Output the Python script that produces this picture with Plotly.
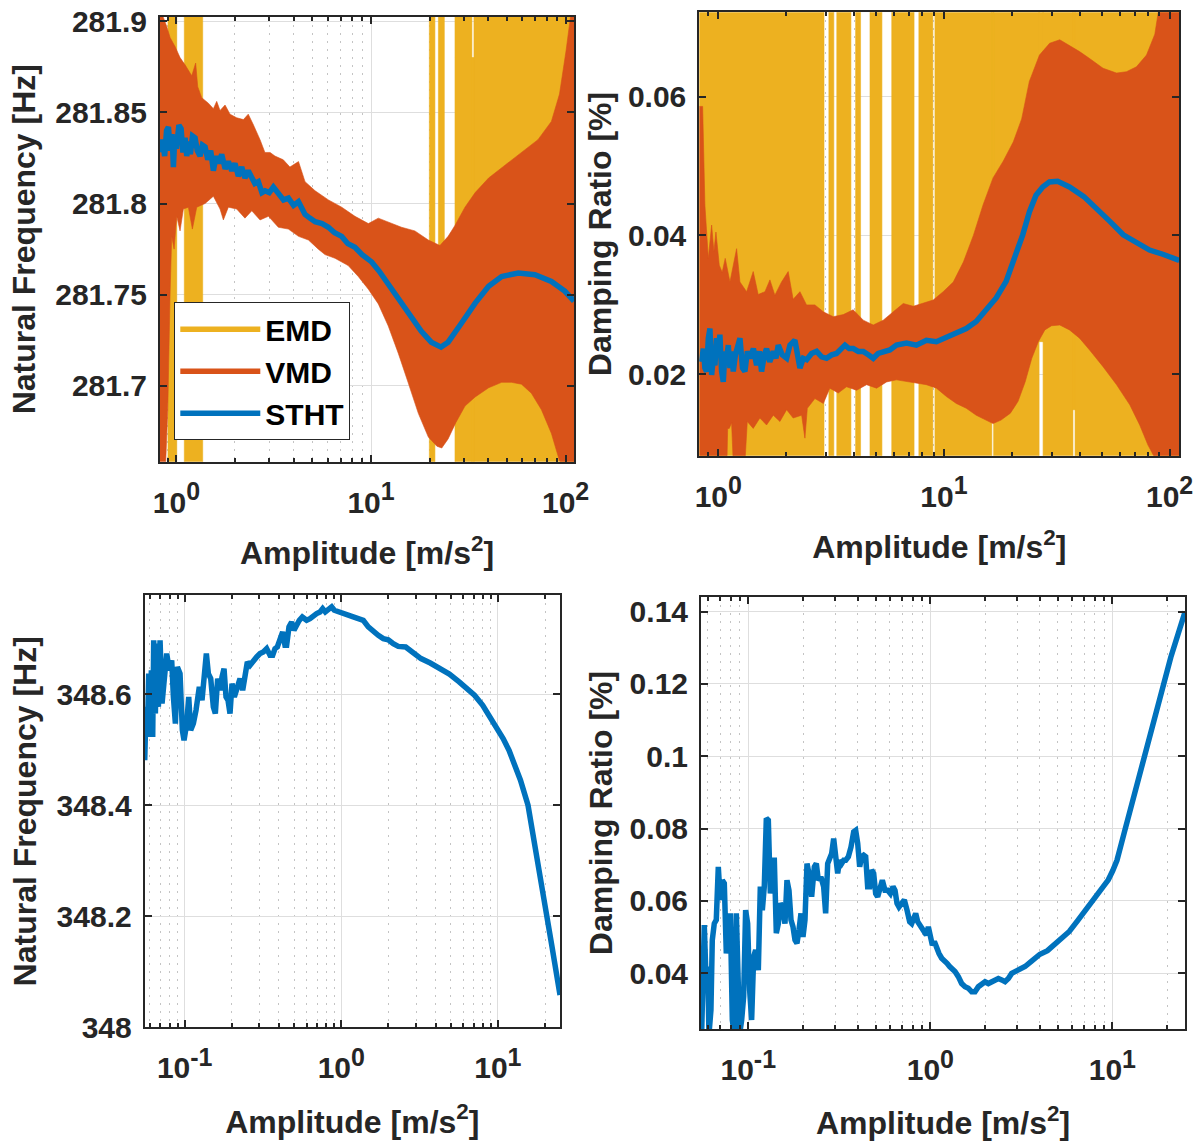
import plotly.graph_objects as go

FONT = "Liberation Sans, Arial, Helvetica, sans-serif"
EMD_C = "#EDB120"
VMD_C = "#D95319"
STHT_C = "#0072BD"
INK = "#262626"

# ---------------- first mode: natural frequency (top left) ----------------
tl_stht_amp = [0.834, 0.85, 0.87, 0.89, 0.91, 0.93, 0.95, 0.965, 0.98, 1.00, 1.03, 1.057, 1.08,
               1.108, 1.13, 1.152, 1.18, 1.21, 1.247, 1.28, 1.323, 1.36, 1.404, 1.45, 1.50, 1.549,
               1.60, 1.65, 1.709, 1.78, 1.85, 1.925, 2.00, 2.08, 2.166, 2.25, 2.34, 2.437, 2.53,
               2.636, 2.75, 2.853, 3.0, 3.15, 3.34, 3.55, 3.763, 4.0, 4.237, 4.4, 4.583, 4.85,
               5.163, 5.6, 6.04, 6.5, 7.07, 7.6, 8.27, 9.0, 10.07, 11.0, 12.25, 13.5, 14.9, 16.5,
               18.14, 20.4, 22.9, 24.9, 27.0, 29.2, 34.3, 40.2, 46.9, 57.1, 69.5, 84.5, 99.0, 110.4]
tl_stht_freq = [281.828, 281.835, 281.826, 281.840, 281.842, 281.829, 281.838, 281.820, 281.835,
                281.830, 281.843, 281.841, 281.828, 281.836, 281.826, 281.834, 281.827, 281.837,
                281.836, 281.829, 281.826, 281.832, 281.831, 281.824, 281.829, 281.818, 281.826,
                281.822, 281.827, 281.819, 281.823, 281.818, 281.822, 281.815, 281.820, 281.814,
                281.818, 281.815, 281.811, 281.812, 281.806, 281.807, 281.806, 281.809, 281.806,
                281.802, 281.803, 281.799, 281.801, 281.798, 281.794, 281.792, 281.790, 281.789,
                281.787, 281.784, 281.782, 281.778, 281.776, 281.772, 281.768, 281.763, 281.756,
                281.749, 281.742, 281.736, 281.730, 281.724, 281.7213, 281.724, 281.729, 281.7345,
                281.7454, 281.7546, 281.760, 281.7619, 281.761, 281.7573, 281.752, 281.7465]

tl_vmd_hi_amp = [0.823, 0.857, 0.892, 0.928, 0.984, 1.044, 1.108, 1.152, 1.199, 1.256, 1.287, 1.349,
                 1.46, 1.549, 1.611, 1.676, 1.778, 1.886, 2.04, 2.21, 2.34, 2.49, 2.69, 2.85, 3.03,
                 3.21, 3.54, 3.83, 4.24, 4.58, 5.16, 6.04, 7.07, 8.27, 9.69, 10.9, 12.25, 14.35,
                 16.8, 19.7, 22.6, 24.9, 27.0, 30.4, 34.3, 40.2, 48.8, 59.3, 72.1, 84.5, 93.0,
                 100.6, 105.8, 110.4]
tl_vmd_hi_freq = [281.91, 281.902, 281.897, 281.891, 281.886, 281.880, 281.876, 281.873, 281.870,
                  281.877, 281.864, 281.858, 281.855, 281.852, 281.856, 281.851, 281.854, 281.849,
                  281.847, 281.846, 281.849, 281.843, 281.835, 281.828, 281.828, 281.826, 281.824,
                  281.820, 281.823, 281.812, 281.807, 281.802, 281.798, 281.793, 281.789, 281.792,
                  281.790, 281.787, 281.785, 281.780, 281.777, 281.782, 281.788, 281.798, 281.806,
                  281.814, 281.821, 281.828, 281.835, 281.845, 281.860, 281.884, 281.902, 281.91]
tl_vmd_lo_amp = [0.823, 0.875, 0.903, 0.928, 0.946, 0.973, 1.004, 1.044, 1.086, 1.152, 1.208, 1.272,
                 1.404, 1.549, 1.676, 1.743, 1.849, 2.04, 2.25, 2.44, 2.69, 2.97, 3.34, 3.76, 4.24,
                 4.77, 5.36, 5.80, 6.53, 7.63, 8.6, 9.69, 10.9, 12.25, 13.8, 15.5, 17.5, 19.7, 21.8,
                 23.1, 24.9, 27.3, 30.4, 34.3, 40.2, 46.9, 52.7, 59.3, 66.7, 75.1, 84.5, 93.0, 110.4]
tl_vmd_lo_freq = [281.65, 281.65, 281.687, 281.751, 281.782, 281.775, 281.793, 281.785, 281.797,
                  281.798, 281.786, 281.798, 281.800, 281.804, 281.797, 281.791, 281.798, 281.797,
                  281.792, 281.796, 281.791, 281.793, 281.787, 281.786, 281.782, 281.780, 281.775,
                  281.772, 281.770, 281.766, 281.760, 281.753, 281.745, 281.733, 281.718, 281.702,
                  281.685, 281.672, 281.667, 281.666, 281.671, 281.680, 281.689, 281.694, 281.699,
                  281.702, 281.702, 281.701, 281.696, 281.687, 281.674, 281.659, 281.65]

# EMD estimates swing past the axis limits; each span lists where they sweep
tl_emd_start = [0.905, 1.098, 19.94, 22.2, 27.0, 33.0, 33.8]
tl_emd_end = [1.004, 1.365, 21.3, 23.8, 33.0, 33.8, 110.4]
tl_emd_low = [281.60, 281.60, 281.60, 281.74, 281.60, 281.60, 281.60]
tl_emd_high = [281.95, 281.95, 281.95, 281.95, 281.95, 281.88, 281.95]

# ---------------- first mode: damping ratio (top right) ----------------
tr_stht_amp = [0.843, 0.858, 0.872, 0.887, 0.903, 0.918, 0.934, 0.950, 0.966, 0.982, 1.000, 1.016,
               1.034, 1.052, 1.070, 1.088, 1.107, 1.126, 1.145, 1.165, 1.19, 1.22, 1.247, 1.28,
               1.312, 1.345, 1.380, 1.43, 1.478, 1.52, 1.555, 1.60, 1.636, 1.69, 1.752, 1.80, 1.843,
               1.92, 2.008, 2.077, 2.185, 2.30, 2.38, 2.463, 2.59, 2.726, 2.87, 3.018, 3.18, 3.341,
               3.49, 3.641, 3.80, 3.964, 4.17, 4.389, 4.62, 4.858, 5.11, 5.379, 5.757, 6.162, 6.822,
               7.552, 8.361, 9.256, 10.25, 11.34, 12.56, 13.9, 15.39, 17.04, 18.86, 20.88, 22.34,
               23.91, 25.59, 27.39, 29.32, 31.9, 36.0, 41.7, 47.6, 54.5, 62.3, 71.3, 81.5, 93.3,
               106.7, 110.4]
tr_stht_damp = [0.0218, 0.0237, 0.0209, 0.0204, 0.0252, 0.0266, 0.0199, 0.0223, 0.0213, 0.0252,
                0.0233, 0.0257, 0.0204, 0.0189, 0.0233, 0.0223, 0.0242, 0.0209, 0.0233, 0.0204,
                0.0228, 0.0242, 0.0252, 0.0209, 0.0204, 0.0233, 0.0223, 0.0237, 0.0213, 0.0233,
                0.0204, 0.0228, 0.0237, 0.0218, 0.0233, 0.0223, 0.0242, 0.0228, 0.0223, 0.0242,
                0.0249, 0.0209, 0.0223, 0.0221, 0.0230, 0.0233, 0.0225, 0.0223, 0.0228, 0.0230,
                0.0237, 0.0242, 0.0237, 0.0237, 0.0233, 0.0233, 0.0228, 0.0223, 0.0230, 0.0233,
                0.0235, 0.0242, 0.0245, 0.0242, 0.0249, 0.0247, 0.0254, 0.0259, 0.0266, 0.0276,
                0.0293, 0.0310, 0.0334, 0.0372, 0.0401, 0.0434, 0.0458, 0.0470, 0.0477, 0.0478,
                0.0470, 0.0456, 0.0439, 0.0420, 0.0401, 0.0389, 0.0379, 0.0373, 0.0366, 0.0364]

tr_vmd_hi_amp = [0.823, 0.852, 0.872, 0.903, 0.934, 0.956, 0.976, 1.01, 1.04, 1.073, 1.126, 1.205,
                 1.247, 1.335, 1.428, 1.502, 1.609, 1.693, 1.781, 1.906, 2.04, 2.146, 2.30, 2.46,
                 2.68, 2.92, 3.23, 3.58, 3.96, 4.39, 4.86, 5.38, 5.96, 6.60, 7.31, 8.09, 8.96, 9.92,
                 11.0, 12.2, 13.5, 14.9, 16.5, 18.3, 20.3, 22.1, 23.9, 26.5, 29.4, 32.6, 36.0, 39.9,
                 44.2, 50.7, 58.2, 64.4, 71.3, 79.0, 86.0, 91.9, 110.4]
tr_vmd_hi_damp = [0.0586, 0.0586, 0.0444, 0.0367, 0.0415, 0.0377, 0.0405, 0.0357, 0.0347, 0.0367,
                  0.0333, 0.0381, 0.0333, 0.0319, 0.0348, 0.0315, 0.0319, 0.0336, 0.0314, 0.0333,
                  0.0348, 0.0308, 0.0319, 0.0300, 0.0300, 0.0290, 0.0283, 0.0286, 0.0293, 0.0278,
                  0.0271, 0.0278, 0.0290, 0.0302, 0.0298, 0.0302, 0.0307, 0.0319, 0.0333, 0.0362,
                  0.0400, 0.0444, 0.0483, 0.0507, 0.0535, 0.0568, 0.0622, 0.0660, 0.0677, 0.0682,
                  0.0674, 0.0665, 0.0655, 0.0641, 0.0634, 0.0636, 0.0643, 0.0660, 0.0690, 0.0750,
                  0.0750]
tr_vmd_lo_amp = [0.823, 1.088, 1.10, 1.118, 1.145, 1.172, 1.30, 1.344, 1.428, 1.528, 1.636, 1.752,
                 1.875, 2.008, 2.146, 2.34, 2.42, 2.48, 2.68, 2.92, 3.12, 3.40, 3.70, 4.10, 4.54,
                 5.03, 5.57, 6.16, 6.82, 7.55, 8.36, 9.26, 10.25, 11.34, 12.56, 13.9, 15.4, 16.5,
                 17.9, 19.7, 21.3, 22.9, 24.5, 26.2, 28.0, 30.0, 32.6, 36.0, 39.9, 44.2, 50.7, 58.2,
                 66.6, 73.7, 80.2, 84.9, 110.4]
tr_vmd_lo_damp = [0.0050, 0.0050, 0.0122, 0.0122, 0.0130, 0.0050, 0.0050, 0.0132, 0.0122, 0.0137,
                  0.0127, 0.0141, 0.0132, 0.0149, 0.0137, 0.0141, 0.0108, 0.0151, 0.0165, 0.0158,
                  0.0180, 0.0173, 0.0182, 0.0177, 0.0185, 0.0180, 0.0189, 0.0192, 0.0189, 0.0187,
                  0.0185, 0.0180, 0.0168, 0.0158, 0.0151, 0.0141, 0.0134, 0.0129, 0.0134, 0.0144,
                  0.0161, 0.0189, 0.0223, 0.0247, 0.0264, 0.0270, 0.0271, 0.0264, 0.0252, 0.0235,
                  0.0211, 0.0185, 0.0156, 0.0127, 0.0098, 0.0083, 0.0050]

tr_emd_start = [0.823, 3.09, 3.35, 4.06, 4.70, 5.87, 7.74, 9.12, 16.3, 16.6, 26.4, 27.5, 37.3, 38.1]
tr_emd_end = [2.94, 3.25, 3.87, 4.27, 5.31, 7.37, 8.93, 16.3, 16.6, 26.4, 27.5, 37.3, 38.1, 110.4]
tr_emd_low = [0.0, 0.0, 0.0, 0.0, 0.0, 0.0, 0.0, 0.0, 0.0135, 0.0, 0.0247, 0.0, 0.0149, 0.0]
tr_emd_high = [0.08] * 14

# ---------------- second mode: natural frequency (bottom left) ----------------
bl_stht_amp = [0.05556, 0.05665, 0.05777, 0.05891, 0.06007, 0.06126, 0.06247, 0.0634, 0.06498,
               0.06627, 0.06791, 0.06961, 0.07168, 0.07382, 0.07675, 0.0798, 0.0826, 0.08468,
               0.0872, 0.08981, 0.09337, 0.09663, 0.09902, 0.1030, 0.1061, 0.1092, 0.1136, 0.1181,
               0.1240, 0.1290, 0.1335, 0.1375, 0.1416, 0.1466, 0.1524, 0.1569, 0.1624, 0.1681,
               0.1731, 0.1783, 0.1836, 0.1891, 0.1947, 0.2005, 0.2075, 0.2158, 0.2256, 0.2346,
               0.2439, 0.2512, 0.2612, 0.2744, 0.2882, 0.3027, 0.3178, 0.3338, 0.3506, 0.3646,
               0.3773, 0.3904, 0.4060, 0.4222, 0.4369, 0.4478, 0.4634, 0.4819, 0.4988, 0.5187,
               0.5394, 0.5637, 0.6008, 0.6310, 0.6628, 0.6961, 0.7311, 0.7602, 0.7905, 0.8260,
               0.8679, 0.9023, 0.9570, 1.005, 1.055, 1.108, 1.192, 1.284, 1.382, 1.487, 1.601,
               1.723, 1.854, 1.995, 2.147, 2.311, 2.578, 2.9, 3.228, 3.7, 4.268, 4.9, 5.66, 6.3,
               7.09, 8.0, 8.89, 9.94, 10.8, 11.77, 12.8, 13.94, 15.57, 17.51, 19.70, 22.16, 24.93]
bl_stht_freq = [348.481, 348.577, 348.523, 348.637, 348.529, 348.643, 348.523, 348.697, 348.565,
                348.691, 348.577, 348.697, 348.583, 348.631, 348.673, 348.643, 348.661, 348.595,
                348.547, 348.649, 348.637, 348.535, 348.517, 348.547, 348.595, 348.535, 348.547,
                348.571, 348.613, 348.589, 348.643, 348.673, 348.637, 348.628, 348.577, 348.565,
                348.628, 348.607, 348.631, 348.646, 348.595, 348.589, 348.565, 348.619, 348.595,
                348.613, 348.628, 348.607, 348.637, 348.658, 348.652, 348.661, 348.667, 348.673,
                348.676, 348.682, 348.670, 348.670, 348.682, 348.685, 348.703, 348.712, 348.688,
                348.688, 348.721, 348.730, 348.715, 348.727, 348.733, 348.739, 348.733, 348.736,
                348.742, 348.745, 348.748, 348.754, 348.748, 348.751, 348.757, 348.751, 348.748,
                348.748, 348.745, 348.742, 348.739, 348.736, 348.733, 348.721, 348.712, 348.706,
                348.700, 348.698, 348.691, 348.686, 348.685, 348.675, 348.664, 348.656, 348.646,
                348.636, 348.622, 348.612, 348.598, 348.580, 348.559, 348.538, 348.520, 348.499,
                348.475, 348.445, 348.400, 348.320, 348.230, 348.145, 348.058]

# ---------------- second mode: damping ratio (bottom right) ----------------
br_stht_amp = [0.0545, 0.05541, 0.0573, 0.05852, 0.05977, 0.06079, 0.06234, 0.0634, 0.06502,
               0.06669, 0.06841, 0.07016, 0.07196, 0.07381, 0.07571, 0.07765, 0.07965, 0.08169,
               0.08379, 0.08594, 0.0874, 0.08964, 0.09193, 0.09428, 0.09667, 0.09916, 0.1017,
               0.1043, 0.107, 0.1097, 0.1135, 0.1164, 0.1194, 0.1224, 0.1256, 0.1288, 0.1321,
               0.1355, 0.139, 0.1425, 0.1462, 0.1499, 0.1538, 0.159, 0.1631, 0.1673, 0.1716,
               0.176, 0.1805, 0.1851, 0.1898, 0.1947, 0.1997, 0.2048, 0.2101, 0.2154, 0.2228,
               0.2305, 0.2364, 0.2424, 0.2507, 0.2594, 0.266, 0.2729, 0.2799, 0.2871, 0.2944,
               0.302, 0.3097, 0.3176, 0.3258, 0.3341, 0.3427, 0.3545, 0.3666, 0.3792, 0.3889,
               0.3989, 0.4091, 0.4195, 0.4303, 0.4413, 0.4526, 0.4642, 0.4761, 0.4883, 0.5008,
               0.5136, 0.5312, 0.5448, 0.5635, 0.5829, 0.6029, 0.6236, 0.6396, 0.6559, 0.6727,
               0.6959, 0.7197, 0.7445, 0.77, 0.7897, 0.8099, 0.8307, 0.852, 0.8738, 0.8962,
               0.9268, 0.9506, 0.975, 1.0, 1.026, 1.052, 1.079, 1.116, 1.154, 1.194, 1.235, 1.277,
               1.321, 1.366, 1.425, 1.486, 1.551, 1.617, 1.687, 1.76, 1.835, 1.915, 1.997, 2.083,
               2.173, 2.267, 2.364, 2.466, 2.572, 2.683, 2.798, 2.919, 3.045, 3.176, 3.313, 3.6,
               4.0, 4.4, 4.8, 5.3, 5.8, 6.4, 7.0, 7.8, 8.6, 9.5, 10.04, 10.6, 11.64, 13.48, 15.61,
               18.07, 20.94, 25.1]
br_stht_damp = [0.0404, 0.0230, 0.0533, 0.0390, 0.0418, 0.0230, 0.0298, 0.0491, 0.0537, 0.0547,
                0.0694, 0.0602, 0.0657, 0.0648, 0.0454, 0.0519, 0.0565, 0.0270, 0.0230, 0.0565,
                0.0464, 0.0230, 0.0270, 0.0335, 0.0574, 0.0537, 0.0353, 0.0270, 0.0445, 0.0464,
                0.0408, 0.0639, 0.0574, 0.0639, 0.0828, 0.0823, 0.0620, 0.0712, 0.0712, 0.0510,
                0.0537, 0.0593, 0.0583, 0.0537, 0.0657, 0.0629, 0.0547, 0.0528, 0.0491, 0.0482,
                0.0519, 0.0565, 0.0500, 0.0547, 0.0703, 0.0676, 0.0611, 0.0694, 0.0703, 0.0657,
                0.0666, 0.0639, 0.0565, 0.0703, 0.0717, 0.0731, 0.0772, 0.0722, 0.0676, 0.0712,
                0.0703, 0.0712, 0.0712, 0.0722, 0.0749, 0.0791, 0.0795, 0.0759, 0.0694, 0.0722,
                0.0726, 0.0722, 0.0639, 0.0639, 0.0685, 0.0676, 0.0620, 0.0611, 0.0648, 0.0657,
                0.0629, 0.0629, 0.0620, 0.0639, 0.0629, 0.0593, 0.0583, 0.0593, 0.0602, 0.0574,
                0.0542, 0.0537, 0.0556, 0.0565, 0.0542, 0.0533, 0.0528, 0.0514, 0.0505, 0.0528,
                0.0500, 0.0477, 0.0487, 0.0468, 0.0454, 0.0441, 0.0431, 0.0427, 0.0418, 0.0413,
                0.0404, 0.0390, 0.0371, 0.0362, 0.0358, 0.0348, 0.0348, 0.0362, 0.0371, 0.0376,
                0.0371, 0.0376, 0.0381, 0.0385, 0.0381, 0.0376, 0.0385, 0.0399, 0.0404, 0.0408,
                0.0413, 0.0418, 0.0433, 0.0452, 0.0462, 0.0478, 0.0494, 0.0515, 0.0543, 0.0570,
                0.0600, 0.0628, 0.0658, 0.0683, 0.0712, 0.0790, 0.0908, 0.1040, 0.1156, 0.1274,
                0.1400]

# ---------------- axis ticks ----------------
def pow10(e):
    return "10<sup><span style='font-size:25px'>%s</span></sup>" % e


top_x_ticks = [1, 10, 100]
top_x_text = [pow10(0), pow10(1), pow10(2)]
top_x_minor = [0.9] + [m * d for d in (1, 10) for m in range(2, 10)]
bot_x_ticks = [0.1, 1, 10]
bot_x_text = [pow10(-1), pow10(0), pow10(1)]
bot_x_minor = [0.06, 0.07, 0.08, 0.09] + [m * d for d in (0.1, 1) for m in range(2, 10)] + [20]

tl_y_ticks = [281.7, 281.75, 281.8, 281.85, 281.9]
tl_y_text = ["281.7", "281.75", "281.8", "281.85", "281.9"]
tr_y_ticks = [0.02, 0.04, 0.06]
tr_y_text = ["0.02", "0.04", "0.06"]
bl_y_ticks = [348.0, 348.2, 348.4, 348.6]
bl_y_text = ["348", "348.2", "348.4", "348.6"]
br_y_ticks = [0.04, 0.06, 0.08, 0.10, 0.12, 0.14]
br_y_text = ["0.04", "0.06", "0.08", "0.1", "0.12", "0.14"]

X_TITLE = "Amplitude [m/s<sup>2</sup>]"
FREQ_TITLE = "Natural Frequency [Hz]"
DAMP_TITLE = "Damping Ratio [%]"


def band(x_hi, y_hi, x_lo, y_lo):
    """Closed outline of a band between an upper and a lower envelope."""
    return list(x_hi) + list(reversed(x_lo)), list(y_hi) + list(reversed(y_lo))


def spans(x0, x1, lo, hi):
    """Rectangles (one per span) separated by gaps, for a single filled trace."""
    xs, ys = [], []
    for a, b, l, h in zip(x0, x1, lo, hi):
        xs += [a, b, b, a, a, None]
        ys += [l, l, h, h, l, None]
    return xs, ys


def fill_trace(xy, color, xa, ya):
    return go.Scatter(x=xy[0], y=xy[1], mode="lines", fill="toself", fillcolor=color,
                      line=dict(color=color, width=0.6), showlegend=False,
                      hoverinfo="skip", xaxis=xa, yaxis=ya)


def line_trace(x, y, xa, ya):
    return go.Scatter(x=x, y=y, mode="lines", showlegend=False,
                      line=dict(color=STHT_C, width=5.5), xaxis=xa, yaxis=ya)


fig = go.Figure()

# top left
fig.add_trace(fill_trace(spans(tl_emd_start, tl_emd_end, tl_emd_low, tl_emd_high), EMD_C, "x", "y"))
fig.add_trace(fill_trace(band(tl_vmd_hi_amp, tl_vmd_hi_freq, tl_vmd_lo_amp, tl_vmd_lo_freq), VMD_C, "x", "y"))
fig.add_trace(line_trace(tl_stht_amp, tl_stht_freq, "x", "y"))
# top right
fig.add_trace(fill_trace(spans(tr_emd_start, tr_emd_end, tr_emd_low, tr_emd_high), EMD_C, "x2", "y2"))
fig.add_trace(fill_trace(band(tr_vmd_hi_amp, tr_vmd_hi_damp, tr_vmd_lo_amp, tr_vmd_lo_damp), VMD_C, "x2", "y2"))
fig.add_trace(line_trace(tr_stht_amp, tr_stht_damp, "x2", "y2"))
# bottom
fig.add_trace(line_trace(bl_stht_amp, bl_stht_freq, "x3", "y3"))
fig.add_trace(line_trace(br_stht_amp, br_stht_damp, "x4", "y4"))

# legend entries
for name, col in (("EMD", EMD_C), ("VMD", VMD_C), ("STHT", STHT_C)):
    fig.add_trace(go.Scatter(x=[None], y=[None], mode="lines", name=name,
                             line=dict(color=col, width=5.5), xaxis="x", yaxis="y"))

tick_font = dict(family=FONT, size=30, color=INK, weight="bold")
title_font = dict(family=FONT, size=32, color=INK, weight="bold")


def common(axis, standoff):
    axis.update(ticks="inside", ticklen=7, tickwidth=1.5, tickcolor=INK,
                showline=True, linewidth=2, linecolor=INK, mirror="ticks",
                showgrid=True, gridcolor="#dedede", gridwidth=1, zeroline=False,
                tickfont=tick_font, ticklabelstandoff=standoff)
    return axis


def xaxis(domain, rng, ticks, text, minor, anchor, title_gap):
    return common(dict(type="log", domain=domain, range=rng, anchor=anchor,
                       tickmode="array", tickvals=ticks, ticktext=text,
                       minor=dict(tickmode="array", tickvals=minor, ticks="inside", ticklen=4,
                                  tickcolor=INK, showgrid=True, gridcolor="#c4c4c4",
                                  griddash="2px,6px", gridwidth=1),
                       title=dict(text=X_TITLE, font=title_font, standoff=title_gap)), 13)


def yaxis(domain, rng, ticks, text, title, anchor, title_gap):
    return common(dict(domain=domain, range=rng, anchor=anchor,
                       tickmode="array", tickvals=ticks, ticktext=text,
                       title=dict(text=title, font=title_font, standoff=title_gap)), 5)


W, H = 1197, 1141
fig.update_layout(
    width=W, height=H, margin=dict(l=0, r=0, t=0, b=0),
    paper_bgcolor="white", plot_bgcolor="white", template="none",
    xaxis=xaxis([160 / W, 574 / W], [-0.0843, 2.043], top_x_ticks, top_x_text, top_x_minor, "y", 24),
    yaxis=yaxis([1 - 461.7 / H, 1 - 16.7 / H], [281.6585, 281.9024], tl_y_ticks, tl_y_text, FREQ_TITLE, "x", 10),
    xaxis2=xaxis([699.3 / W, 1179.3 / W], [-0.0843, 2.043], top_x_ticks, top_x_text, top_x_minor, "y2", 24),
    yaxis2=yaxis([1 - 455.7 / H, 1 - 12.3 / H], [0.00827, 0.07216], tr_y_ticks, tr_y_text, DAMP_TITLE, "x2", 7),
    xaxis3=xaxis([144.7 / W, 560 / W], [-1.2554, 1.3966], bot_x_ticks, bot_x_text, bot_x_minor, "y3", 27),
    yaxis3=yaxis([1 - 1027.3 / H, 1 - 595.3 / H], [348.0, 348.778], bl_y_ticks, bl_y_text, FREQ_TITLE, "x3", 10),
    xaxis4=xaxis([701 / W, 1185 / W], [-1.2599, 1.399], bot_x_ticks, bot_x_text, bot_x_minor, "y4", 27),
    yaxis4=yaxis([1 - 1029.3 / H, 1 - 596.7 / H], [0.02443, 0.14415], br_y_ticks, br_y_text, DAMP_TITLE, "x4", 7),
    legend=dict(x=174.3 / W, y=1 - 302.3 / H, xanchor="left", yanchor="top",
                bgcolor="white", bordercolor=INK, borderwidth=1,
                font=dict(family=FONT, size=30, color="black", weight="bold"),
                itemwidth=80, tracegroupgap=0),
    showlegend=True,
)

fig.write_html("out.html")
